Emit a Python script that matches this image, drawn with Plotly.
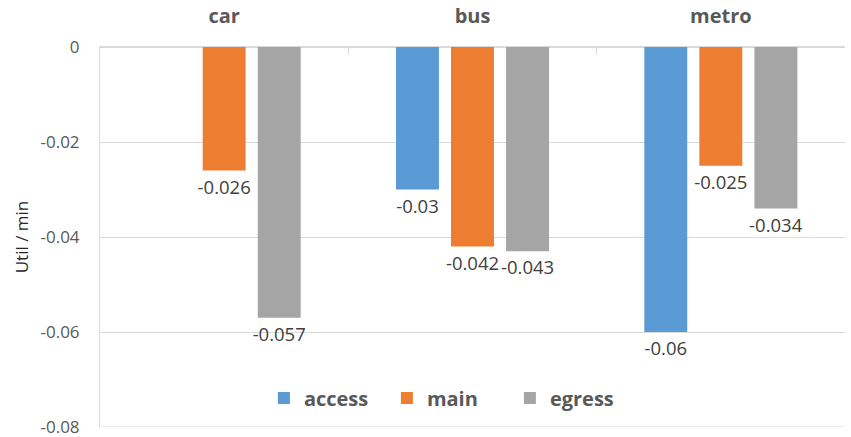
import plotly.graph_objects as go

categories = ["car", "bus", "metro"]
access = [None, -0.03, -0.06]
main = [-0.026, -0.042, -0.025]
egress = [-0.057, -0.043, -0.034]
series_names = ["access", "main", "egress"]
colors = ["#5B9BD5", "#ED7D31", "#A5A5A5"]
y_ticks = [0, -0.02, -0.04, -0.06, -0.08]
y_ticklabels = ["0", "-0.02", "-0.04", "-0.06", "-0.08"]

FONT = "Open Sans"
fig = go.Figure()
for name, vals, col in zip(series_names, [access, main, egress], colors):
    fig.add_trace(go.Bar(
        x=categories, y=vals, name=name, marker_color=col, marker_line_width=0,
        text=[("" if v is None else f"{v:g}") for v in vals],
        textposition="outside", cliponaxis=False, constraintext="none",
        textfont=dict(family=FONT, size=18.5, color="#404040"),
    ))

fig.update_layout(
    width=851, height=437,
    margin=dict(l=100, r=6, t=47, b=10),
    paper_bgcolor="white", plot_bgcolor="white",
    barmode="group", bargap=0.335, bargroupgap=0.22,
    font=dict(family=FONT, color="#595959"),
    showlegend=True,
    legend=dict(orientation="h", x=0.220, xanchor="left", y=0.076, yanchor="middle",
                font=dict(family=FONT, size=20, color="#595959", weight="bold"),
                bgcolor="rgba(0,0,0,0)", entrywidth=78, entrywidthmode="pixels"),
)
fig.update_xaxes(
    side="top", tickson="boundaries", ticks="inside", ticklen=7, tickcolor="#D9D9D9",
    showgrid=False, showline=True, linecolor="#D9D9D9", linewidth=1,
    ticklabelstandoff=15, automargin=False,
    tickfont=dict(family=FONT, size=20, color="#595959", weight="bold"),
)
fig.update_yaxes(
    range=[-0.08, 0], tickvals=y_ticks, ticktext=y_ticklabels,
    showgrid=True, gridcolor="#D9D9D9", gridwidth=1,
    zeroline=True, zerolinecolor="#D9D9D9", zerolinewidth=1,
    showline=True, linecolor="#D9D9D9", linewidth=1, mirror=False,
    ticks="", ticklabelstandoff=16, automargin=False, ticklabeloverflow="allow",
    tickfont=dict(family=FONT, size=17, color="#595959"),
    title=dict(text="Util / min", font=dict(family=FONT, size=17, color="#262626"), standoff=7),
)
fig.add_shape(type="line", xref="paper", yref="y", x0=0, x1=1, y0=-0.08, y1=-0.08,
              line=dict(color="#D9D9D9", width=1), layer="above")

fig.write_html("out.html")
